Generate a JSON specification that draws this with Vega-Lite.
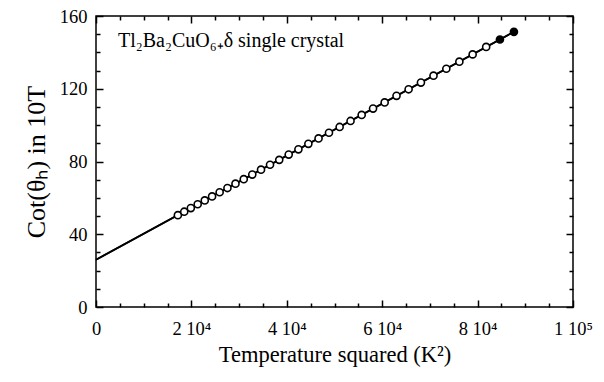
{
  "$schema": "https://vega.github.io/schema/vega-lite/v6.json",
  "width": 477,
  "height": 291,
  "autosize": {"type": "none"},
  "padding": {"left": 96, "top": 16, "right": 31, "bottom": 75},
  "background": "white",
  "config": {
    "view": {"stroke": "black", "strokeWidth": 1.5},
    "font": "Liberation Serif",
    "axis": {
      "labelFont": "Liberation Serif",
      "titleFont": "Liberation Serif",
      "labelColor": "black",
      "titleColor": "black",
      "tickColor": "black",
      "tickWidth": 1.5,
      "grid": false,
      "domain": false,
      "labelFontSize": 18.5,
      "titleFontSize": 22.5,
      "titleFontWeight": "normal",
      "labelOverlap": false,
      "labelFlush": false
    }
  },
  "datasets": {
    "pts": [
      {"T2": 17161, "y": 50.5}, {"T2": 18496, "y": 52.4}, {"T2": 19881, "y": 54.4},
      {"T2": 21316, "y": 56.5}, {"T2": 22801, "y": 58.6}, {"T2": 24336, "y": 60.8},
      {"T2": 25921, "y": 63.1}, {"T2": 27556, "y": 65.4}, {"T2": 29241, "y": 67.8},
      {"T2": 30976, "y": 70.3}, {"T2": 32761, "y": 72.8}, {"T2": 34596, "y": 75.5},
      {"T2": 36481, "y": 78.2}, {"T2": 38416, "y": 80.9}, {"T2": 40401, "y": 83.8},
      {"T2": 42436, "y": 86.7}, {"T2": 44521, "y": 89.7}, {"T2": 46656, "y": 92.7},
      {"T2": 48841, "y": 95.8}, {"T2": 51076, "y": 99.0}, {"T2": 53361, "y": 102.3},
      {"T2": 55696, "y": 105.6}, {"T2": 58081, "y": 109.1}, {"T2": 60516, "y": 112.5},
      {"T2": 63001, "y": 116.1}, {"T2": 65536, "y": 119.7}, {"T2": 68121, "y": 123.4},
      {"T2": 70756, "y": 127.2}, {"T2": 73441, "y": 131.0}, {"T2": 76176, "y": 134.9},
      {"T2": 78961, "y": 138.9}, {"T2": 81796, "y": 143.0}, {"T2": 84681, "y": 147.1},
      {"T2": 87616, "y": 151.3}
    ],
    "fit": [{"T2": 0, "y": 26}, {"T2": 87616, "y": 151.3}],
    "label": [{"x": 4600, "y": 143, "text": "Tl₂Ba₂CuO₆₊δ single crystal"}]
  },
  "layer": [
    {
      "data": {"name": "fit"},
      "mark": {"type": "line", "color": "black", "strokeWidth": 1.8},
      "encoding": {
        "x": {
          "field": "T2", "type": "quantitative",
          "scale": {"domain": [0, 100000], "nice": false, "zero": false},
          "axis": {
            "orient": "bottom",
            "title": "Temperature squared (K²)",
            "values": [0, 20000, 40000, 60000, 80000, 100000],
            "labelExpr": "datum.value == 0 ? '0' : (datum.value == 100000 ? '1 10⁵' : (datum.value / 10000) + ' 10⁴')",
            "tickSize": -7,
            "labelPadding": 19,
            "titlePadding": 6
          }
        },
        "y": {
          "field": "y", "type": "quantitative",
          "scale": {"domain": [0, 160], "nice": false, "zero": false},
          "axis": {
            "orient": "left",
            "title": "Cot(θₕ) in 10T",
            "titleFontSize": 26,
            "values": [0, 40, 80, 120, 160],
            "tickSize": -7,
            "labelPadding": 16,
            "titlePadding": 10
          }
        }
      }
    },
    {
      "data": {"name": "fit"},
      "mark": {"type": "line", "color": "black", "strokeWidth": 1.8},
      "encoding": {
        "x": {
          "field": "T2", "type": "quantitative",
          "scale": {"domain": [0, 100000], "nice": false, "zero": false},
          "axis": {
            "orient": "top", "title": null, "labels": false,
            "values": [5000,10000,15000,25000,30000,35000,45000,50000,55000,65000,70000,75000,85000,90000,95000],
            "tickSize": -4
          }
        },
        "y": {
          "field": "y", "type": "quantitative",
          "scale": {"domain": [0, 160], "nice": false, "zero": false},
          "axis": {
            "orient": "right", "title": null, "labels": false,
            "values": [10,20,30,50,60,70,90,100,110,130,140,150],
            "tickSize": -4
          }
        }
      }
    },
    {
      "data": {"name": "pts"},
      "mark": {"type": "point", "shape": "circle", "filled": true, "stroke": "black", "strokeWidth": 1.6, "size": 50, "opacity": 1},
      "encoding": {
        "x": {
          "field": "T2", "type": "quantitative",
          "scale": {"domain": [0, 100000], "nice": false, "zero": false},
          "axis": {
            "orient": "top", "title": null, "labels": false,
            "values": [0, 20000, 40000, 60000, 80000, 100000],
            "tickSize": -7
          }
        },
        "y": {
          "field": "y", "type": "quantitative",
          "scale": {"domain": [0, 160], "nice": false, "zero": false},
          "axis": {
            "orient": "right", "title": null, "labels": false,
            "values": [0, 40, 80, 120, 160],
            "tickSize": -7
          }
        },
        "fill": {"condition": {"test": "datum.T2 > 84000", "value": "black"}, "value": "white"}
      }
    },
    {
      "data": {"name": "label"},
      "mark": {"type": "text", "align": "left", "baseline": "alphabetic", "fontSize": 20, "font": "Liberation Serif", "color": "black"},
      "encoding": {
        "x": {
          "field": "x", "type": "quantitative",
          "scale": {"domain": [0, 100000], "nice": false, "zero": false},
          "axis": {
            "orient": "bottom", "title": null, "labels": false,
            "values": [5000,10000,15000,25000,30000,35000,45000,50000,55000,65000,70000,75000,85000,90000,95000],
            "tickSize": -4
          }
        },
        "y": {
          "field": "y", "type": "quantitative",
          "scale": {"domain": [0, 160], "nice": false, "zero": false},
          "axis": {
            "orient": "left", "title": null, "labels": false,
            "values": [10,20,30,50,60,70,90,100,110,130,140,150],
            "tickSize": -4
          }
        },
        "text": {"field": "text"}
      }
    }
  ],
  "resolve": {"axis": {"x": "independent", "y": "independent"}}
}
